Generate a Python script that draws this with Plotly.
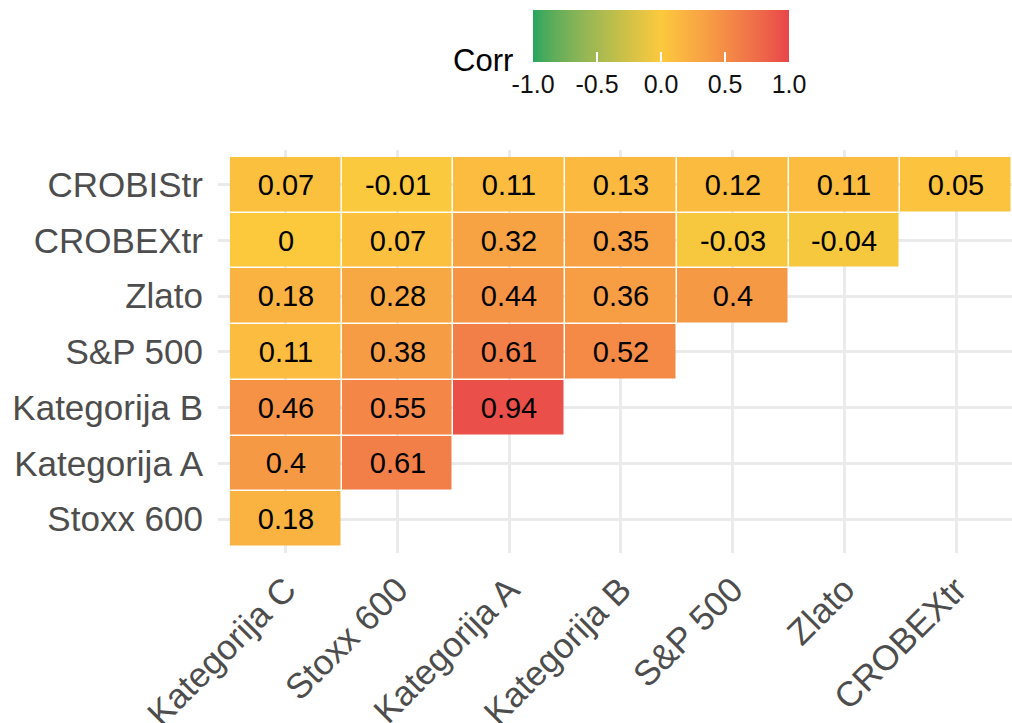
import plotly.graph_objects as go
import numpy as np

# ---------------- data ----------------
x_labels = ["Kategorija C", "Stoxx 600", "Kategorija A", "Kategorija B",
            "S&P 500", "Zlato", "CROBEXtr"]
y_labels = ["Stoxx 600", "Kategorija A", "Kategorija B", "S&P 500",
            "Zlato", "CROBEXtr", "CROBIStr"]  # bottom -> top

row_stoxx600 = [0.18]
row_katA = [0.40, 0.61]
row_katB = [0.46, 0.55, 0.94]
row_sp500 = [0.11, 0.38, 0.61, 0.52]
row_zlato = [0.18, 0.28, 0.44, 0.36, 0.40]
row_crobex = [0.00, 0.07, 0.32, 0.35, -0.03, -0.04]
row_crobis = [0.07, -0.01, 0.11, 0.13, 0.12, 0.11, 0.05]

rows = [row_stoxx600, row_katA, row_katB, row_sp500, row_zlato, row_crobex, row_crobis]
n = len(x_labels)
z = [r + [None] * (n - len(r)) for r in rows]
text = [[("" if v is None else f"{v:g}") for v in r] for r in z]

cbar_ticks = [-1.0, -0.5, 0.0, 0.5, 1.0]
cbar_ticktext = ["-1.0", "-0.5", "0.0", "0.5", "1.0"]

# ---------------- colour scale (Lab interpolation like ggplot gradient2) ----------------
low, mid, high = (38, 166, 95), (252, 201, 60), (232, 69, 74)

def srgb_to_lin(c):
    c = c / 255.0
    return np.where(c <= 0.04045, c / 12.92, ((c + 0.055) / 1.055) ** 2.4)

def lin_to_srgb(c):
    c = np.where(c <= 0.0031308, 12.92 * c, 1.055 * np.power(np.clip(c, 0, None), 1 / 2.4) - 0.055)
    return np.clip(c * 255.0, 0, 255)

M = np.array([[0.4124, 0.3576, 0.1805], [0.2126, 0.7152, 0.0722], [0.0193, 0.1192, 0.9505]])
Minv = np.linalg.inv(M)
wp = np.array([0.95047, 1.0, 1.08883])

def f(t):
    return np.where(t > (6 / 29) ** 3, np.cbrt(t), t / (3 * (6 / 29) ** 2) + 4 / 29)

def finv(t):
    return np.where(t > 6 / 29, t ** 3, 3 * (6 / 29) ** 2 * (t - 4 / 29))

def rgb_to_lab(rgb):
    xyz = M @ srgb_to_lin(np.array(rgb, float)) / wp
    fx, fy, fz = f(xyz)
    return np.array([116 * fy - 16, 500 * (fx - fy), 200 * (fy - fz)])

def lab_to_rgb(lab):
    L, a, b = lab
    fy = (L + 16) / 116
    fx = fy + a / 500
    fz = fy - b / 200
    xyz = finv(np.array([fx, fy, fz])) * wp
    return lin_to_srgb(Minv @ xyz)

lab_low, lab_mid, lab_high = rgb_to_lab(low), rgb_to_lab(mid), rgb_to_lab(high)
colorscale = []
for s in np.linspace(0, 1, 21):
    if s <= 0.5:
        t = s / 0.5
        lab = lab_low + (lab_mid - lab_low) * t
    else:
        t = (s - 0.5) / 0.5
        lab = lab_mid + (lab_high - lab_mid) * t
    r, g, b = lab_to_rgb(lab)
    colorscale.append([float(s), f"rgb({int(round(r))},{int(round(g))},{int(round(b))})"])

# ---------------- figure ----------------
FONT = "Liberation Sans, Arial, Helvetica, sans-serif"
W, H = 1012, 723

fig = go.Figure(go.Heatmap(
    x=list(range(n)), y=list(range(n)), z=z,
    text=text, texttemplate="%{text}",
    textfont=dict(family=FONT, size=29, color="black"),
    colorscale=colorscale, zmin=-1, zmax=1,
    xgap=1.5, ygap=1.5, hoverongaps=False,
    colorbar=dict(
        orientation="h",
        lenmode="pixels", len=256,
        thicknessmode="pixels", thickness=52,
        x=0.558, xanchor="center",
        y=1.347, yanchor="top",
        xpad=0, ypad=0,
        outlinewidth=0,
        tickmode="array", tickvals=cbar_ticks, ticktext=cbar_ticktext,
        ticks="inside", ticklen=10, tickcolor="white", tickwidth=1.5,
        tickfont=dict(family=FONT, size=25, color="#111111"),
    ),
))

fig.add_annotation(
    text="Corr", xref="paper", yref="paper", x=0.374, y=1.222,
    xanchor="right", yanchor="middle", showarrow=False,
    font=dict(family=FONT, size=31, color="black"),
)

fig.update_xaxes(
    tickmode="array", tickvals=list(range(n)), ticktext=x_labels,
    tickangle=-45, range=[-0.607, 6.5], automargin=False,
    showgrid=True, gridcolor="#EBEBEB", gridwidth=2.5,
    zeroline=False, showline=False, ticks="",
    ticklabelstandoff=8,
    tickfont=dict(family=FONT, size=35, color="#4D4D4D"),
)
fig.update_yaxes(
    tickmode="array", tickvals=list(range(n)), ticktext=y_labels,
    range=[-0.61, 6.625], automargin=False,
    showgrid=True, gridcolor="#EBEBEB", gridwidth=2.5,
    zeroline=False, showline=False, ticks="",
    ticklabelstandoff=14,
    tickfont=dict(family=FONT, size=35, color="#4D4D4D"),
)

fig.update_layout(
    width=W, height=H,
    margin=dict(l=218, r=0, t=150, b=170),
    paper_bgcolor="white", plot_bgcolor="white",
    font=dict(family=FONT),
)

fig.write_html("out.html", config={"displayModeBar": False},
               post_script="document.body.style.margin='0';")
